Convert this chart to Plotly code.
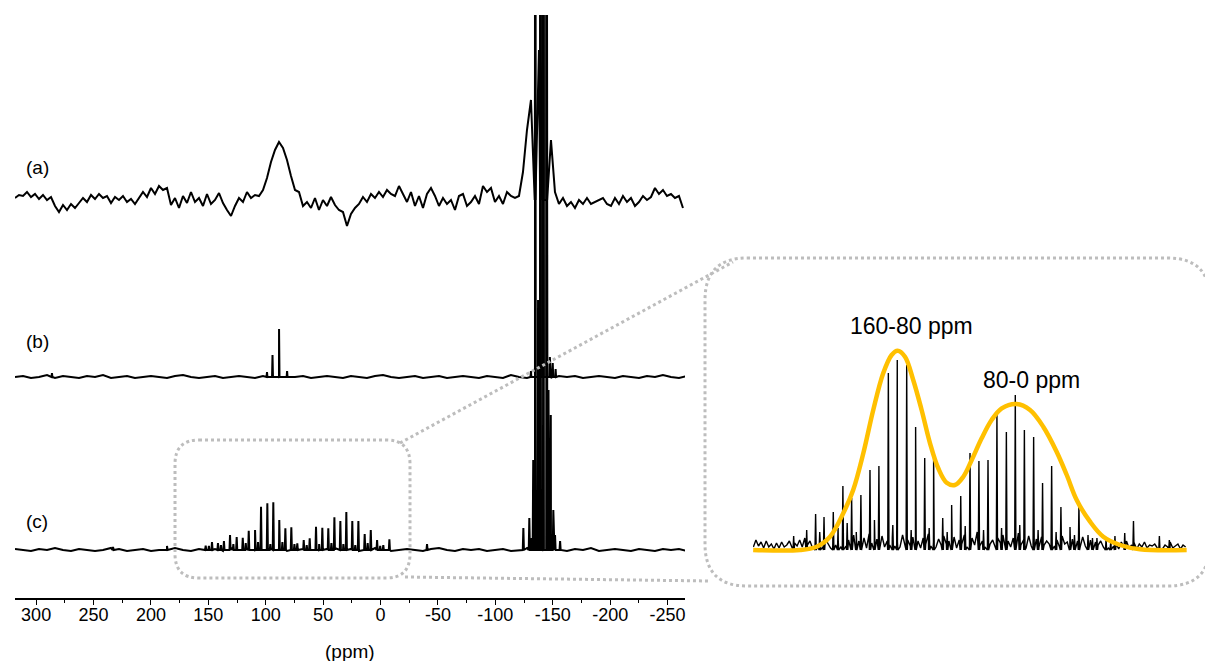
import plotly.graph_objects as go

# ---------------- data ----------------
# spectrum (a): regularly sampled intensities (ppm grid start / step)
A_START = 318.4
A_STEP = 3.484
A_INT = [2, 5, 4, 8, 3, 6, 1, 5, 0, 3, -6, -12, -5, -10, -4, -8, -3, 2, -2, 5,
         1, 6, 2, 4, -3, 3, 0, 4, -2, 1, -4, 2, 8, 3, 12, 6, 14, 10, 12, -5,
         2, -8, 4, -3, 8, -2, 2, -6, 6, -4, 0, 7, -3, -10, -16, -6, 2, -2, 8, 2,
         5, 4, 10, 22, 38, 50, 58, 52, 40, 24, 10, 8, -6, -2, -8, 2, -10, 0, -6, 3,
         -5, -10, -12, -26, -14, -8, -4, 3, -2, 6, 2, 8, 3, 10, 6, 4, 14, 6, -2, 8,
         -6, 4, -8, 6, 12, 4, -6, 2, -4, 0, -10, 4, 6, -6, -2, 4, -4, 14, 8, 12,
         -2, 4, -4, 8, 4, 2, 4, 28, 70, 100, 130, 150, 140, 110, 60, 8, -4, 2, -6, -2,
         -8, 0, -4, 2, -4, -2, 0, 2, -4, -6, 2, -4, 4, -2, 2, -6, -2, 4, 0, 3,
         12, 6, 10, 4, 6, 2, 4, -8]
A_PEAKS_PPM = [-134.6, -139.3, -141.8, -144.8]
A_PEAKS_H = [700, 700, 700, 700]

# baseline noise of (b) and (c)
N_START = 318.4
N_STEP = 6.968
B_NOISE = [0, 1, -1, 0, 2, -1, 1, 0, -1, 1, 0, 2, -1, 0, 1, -1, 0, 1, 0, -1,
           1, 2, 0, -1, 0, 1, -1, 0, 1, 0, -1, 1, 0, -1, 2, 0, 1, -1, 0, 1,
           0, -1, 1, 0, -1, 1, 2, 0, -1, 0, 1, -1, 0, 1, -1, 0, 1, 0, -1, 1,
           0, -1, 2, 0, -1, 1, 0, -1, 1, 0, 1, -1, 0, 1, 0, -1, 1, 0, -1, 1,
           0, 2, 0, -1, 1]
C_NOISE = [1, 0, -1, 1, 0, 2, 0, -1, 1, 0, -1, 0, 2, 1, -1, 0, 1, -1, 0, 1,
           2, 0, -1, 1, 0, 1, -1, 2, 0, 1, -1, 0, 1, 2, -1, 0, 1, 0, -1, 1,
           2, 0, 1, -1, 0, 2, 1, -1, 0, 1, 0, -1, 1, 2, 0, -1, 1, 0, 1, -1,
           0, 1, -1, 0, 2, 0, -1, 1, 0, -1, 1, 0, 2, -1, 0, 1, 0, -1, 1, 0,
           -1, 1, 0, 1, -1]

B_PEAKS_PPM = [286.2, 98.9, 94.1, 88.4, 81.4, -131.0, -134.6, -139.3, -141.8,
               -144.8, -147.5, -150.0, -152.5]
B_PEAKS_H = [4, 5, 22, 48, 6, 6, 700, 700, 700, 700, 20, 14, 8]

C_PEAKS_PPM = [233.0, 186.0,
               152.3, 146.8, 141.6, 136.4, 131.1, 125.3, 120.0, 114.8, 109.3, 104.1,
               98.6, 93.4, 88.2, 82.9, 77.7, 72.5, 66.9, 61.7, 56.2, 50.7,
               45.5, 40.2, 35.0, 29.8, 24.6, 19.3, 13.8, 8.5, 3.0, -2.4, -7.7,
               149.5, 139.0, 128.2, 117.4, 106.7, 96.0, 85.5, 75.0, 64.3, 53.5,
               42.8, 32.4, 22.0, 11.2, 0.3, -40.5,
               -124.4, -129.6, -131.7, -133.0, -134.6, -137.2, -139.3, -141.8,
               -144.8, -146.3, -148.3, -150.5, -152.0, -156.4]
C_PEAKS_H = [3, 4,
             4.3, 8, 7, 9, 15, 13, 12.3, 19.3, 20, 43.3,
             46.7, 47.7, 30, 21.7, 22.7, 6.7, 10, 11.7, 23.3, 22.3,
             21.7, 32.7, 29, 38, 29, 29, 16, 20, 10, 5, 10.7,
             4, 5, 6, 7, 8, 6, 8, 6, 5, 6,
             7, 6, 5, 7, 4, 6,
             22, 32, 12, 90, 700, 250, 700, 700,
             700, 160, 135, 40, 15, 9]

OFFSET_A = 398
OFFSET_B = 221
OFFSET_C = 48

# inset (zoom of spectrum c)
INSET_PEAKS_PPM = [151.4, 146.2, 141.3, 135.9, 130.3, 125.2, 119.8, 114.5, 109.3, 103.8,
                   98.6, 93.1, 87.9, 82.6, 77.4, 72.1, 66.9, 61.6, 56.2, 51.0,
                   45.7, 40.5, 35.0, 29.8, 24.5, 19.1, 13.9, 8.6, 3.2, -2.1,
                   -7.3, -12.6, -17.8, -23.1, -28.3, -34.0, -39.1, -54.2,
                   159.0, 143.8, 133.1, 127.8, 122.5, 111.9, 101.2, 90.5, 80.0, 69.5,
                   59.0, 48.3, 37.8, 27.2, 16.5, 6.0, -4.7, -15.2, -25.7, -60.0]
INSET_PEAKS_H = [20, 36, 33, 38, 64, 52, 55, 80, 84, 177,
                 190, 185, 123, 92, 92, 32, 45, 54, 97, 89,
                 90, 135, 118, 155, 120, 113, 67, 84, 43, 23,
                 45, 15, 12, 12, 14, 17, 29, 14,
                 14, 18, 22, 27, 18, 30, 25, 20, 22, 18,
                 24, 20, 22, 25, 20, 18, 15, 12, 10, 10]
IN_START = 182.5
IN_STEP = 1.5
INSET_NOISE = [3, 10, 4, 8, 2, 9, 3, 6, 1, 7, 2, 8, 3, 5, 9, 2, 7, 4, 10,
               3, 12, 5, 9, 2, 14, 4, 8, 3, 11, 6, 2, 13, 5, 9, 3, 12,
               4, 10, 6, 15, 3, 9, 5, 12, 2, 16, 7, 4, 11, 6, 14, 3, 9, 5, 12, 4,
               8, 3, 15, 6, 10, 4, 13, 5, 9, 2, 12, 6, 16, 4, 8, 3, 11, 5, 14, 6,
               9, 4, 13, 2, 10, 6, 15, 3, 8, 12, 5, 18, 4, 9, 3, 14, 6, 10, 2, 12,
               7, 15, 4, 9, 3, 12, 6, 17, 5, 10, 2, 14, 4, 8, 11, 3, 13, 5, 9, 6,
               12, 4, 10, 3, 14, 6, 8, 2, 11, 5, 9, 3, 13, 4, 7, 10, 2, 8, 5, 9,
               3, 7, 2, 10, 4, 6, 1, 8, 3, 9, 2, 5, 7, 1, 6, 3, 8, 2, 5, 4,
               6, 2, 7, 1, 5, 3, 8, 2, 4, 6, 1, 5, 3]

FIT_PPM = [182.6, 155.3, 145.6, 137.8, 130.1, 124.3, 118.4, 112.6, 106.8, 101.9,
           98.4, 94.1, 89.3, 84.4, 79.5, 74.7, 69.8, 65.0, 60.1, 55.2,
           49.4, 43.6, 37.7, 29.0, 21.2, 13.5, 5.7, -0.2, -6.0, -13.8,
           -21.5, -31.3, -42.9, -70.1]
FIT_H = [0, 0, 3.3, 13.3, 36.7, 60, 96.7, 140, 176.7, 195,
         199.3, 193.3, 170, 140, 106.7, 81.7, 67.3, 65, 73.3, 90,
         111.7, 130, 141.7, 146, 140, 123.3, 98.3, 75, 50, 28.3,
         13.3, 5, 0.7, 0]

LABELS = ["(a)", "(b)", "(c)"]
FIT_LABELS = ["160-80 ppm", "80-0 ppm"]
TICK_VALS = [300, 250, 200, 150, 100, 50, 0, -50, -100, -150, -200, -250]

# ---------------- helpers ----------------
W, H = 1213, 661
PAGE = 8  # default page margin of the html body


def px(x):
    return (x - PAGE) / W


def py(y):
    return 1 - (y - PAGE) / H


def build(base_ppm, base_val, peak_ppm, peak_h, offset, w):
    pts = [(p, offset + v) for p, v in zip(base_ppm, base_val)]
    for p, h in zip(peak_ppm, peak_h):
        pts += [(p + w, offset), (p, offset + h), (p - w, offset)]
    pts.sort(key=lambda t: -t[0])
    return [t[0] for t in pts], [t[1] for t in pts]


a_grid = [A_START - i * A_STEP for i in range(len(A_INT))]
b_grid = [N_START - i * N_STEP for i in range(len(B_NOISE))]
c_grid = [N_START - i * N_STEP for i in range(len(C_NOISE))]
in_grid = [IN_START - i * IN_STEP for i in range(len(INSET_NOISE))]

ax, ay = build(a_grid, A_INT, A_PEAKS_PPM, A_PEAKS_H, OFFSET_A, 0.3)
bx, by = build(b_grid, B_NOISE, B_PEAKS_PPM, B_PEAKS_H, OFFSET_B, 0.4)
cx, cy = build(c_grid, C_NOISE, C_PEAKS_PPM, C_PEAKS_H, OFFSET_C, 0.5)
ix, iy = build(in_grid, INSET_NOISE, INSET_PEAKS_PPM, INSET_PEAKS_H, 0, 0.35)

fig = go.Figure()
for xs, ys in [(ax, ay), (bx, by), (cx, cy)]:
    fig.add_trace(go.Scatter(x=xs, y=ys, mode="lines",
                             line=dict(color="black", width=2),
                             hoverinfo="skip", showlegend=False))
fig.add_trace(go.Scatter(x=ix, y=iy, mode="lines", xaxis="x2", yaxis="y2",
                         line=dict(color="black", width=1.4),
                         hoverinfo="skip", showlegend=False))
fig.add_trace(go.Scatter(x=FIT_PPM, y=FIT_H, mode="lines", xaxis="x2", yaxis="y2",
                         line=dict(color="#FFC000", width=4.5, shape="spline", smoothing=1.0),
                         hoverinfo="skip", showlegend=False))

FONT = "Liberation Sans, Arial, sans-serif"

fig.update_layout(
    width=W, height=H, margin=dict(l=0, r=0, t=0, b=0),
    paper_bgcolor="white", plot_bgcolor="white",
    font=dict(family=FONT, color="black", size=16),
    xaxis=dict(domain=[px(15), px(685)], range=[318.4, -265.2],
               showline=True, linecolor="black", linewidth=1.5,
               ticks="outside", ticklen=5, tickwidth=1.2, tickcolor="black",
               tickvals=TICK_VALS, ticktext=[str(v) for v in TICK_VALS],
               tickfont=dict(size=18, family=FONT, color="black"),
               ticklabelstandoff=-5,
               minor=dict(dtick=25, tick0=0, ticks="outside", ticklen=3,
                          tickcolor="black", tickwidth=1.2),
               showgrid=False, zeroline=False, fixedrange=True),
    yaxis=dict(domain=[py(598), py(15)], range=[0, 583], visible=False,
               fixedrange=True),
    xaxis2=dict(domain=[px(753), px(1187)], range=[182.7, -70.3], visible=False,
                anchor="y2"),
    yaxis2=dict(domain=[py(555), py(255)], range=[-5, 295], visible=False,
                anchor="x2"),
)

# labels (explicitly centred on their positions)
for lab, yy in zip(LABELS, [167, 341, 521]):
    fig.add_annotation(x=px(37), y=py(yy), xref="paper", yref="paper", text=lab,
                       xanchor="center", yanchor="middle",
                       showarrow=False, font=dict(size=19, family=FONT))
fig.add_annotation(x=px(350), y=py(651), xref="paper", yref="paper", text="(ppm)",
                   xanchor="center", yanchor="middle",
                   showarrow=False, font=dict(size=19, family=FONT))
for lab, xx, yy in zip(FIT_LABELS, [911, 1031], [326, 380]):
    fig.add_annotation(x=px(xx), y=py(yy), xref="paper", yref="paper", text=lab,
                       xanchor="center", yanchor="middle",
                       showarrow=False, font=dict(size=23, family=FONT))


def rrect(x0, y0, x1, y1, r):
    def P(x, y):
        return f"{px(x):.5f},{py(y):.5f}"
    return (f"M {P(x0 + r, y0)} L {P(x1 - r, y0)} Q {P(x1, y0)} {P(x1, y0 + r)} "
            f"L {P(x1, y1 - r)} Q {P(x1, y1)} {P(x1 - r, y1)} "
            f"L {P(x0 + r, y1)} Q {P(x0, y1)} {P(x0, y1 - r)} "
            f"L {P(x0, y0 + r)} Q {P(x0, y0)} {P(x0 + r, y0)} Z")


GRAY = "#BDBDBD"
dline = dict(color=GRAY, width=3, dash="dot")
fig.add_shape(type="path", xref="paper", yref="paper", path=rrect(175, 440, 410, 578, 24),
              line=dline)
fig.add_shape(type="path", xref="paper", yref="paper", path=rrect(705, 258, 1210, 586, 42),
              line=dline)
fig.add_shape(type="line", xref="paper", yref="paper", x0=px(400), y0=py(443),
              x1=px(733), y1=py(262), line=dline)
fig.add_shape(type="line", xref="paper", yref="paper", x0=px(405), y0=py(577),
              x1=px(710), y1=py(581), line=dline)

fig.write_html("out.html")
